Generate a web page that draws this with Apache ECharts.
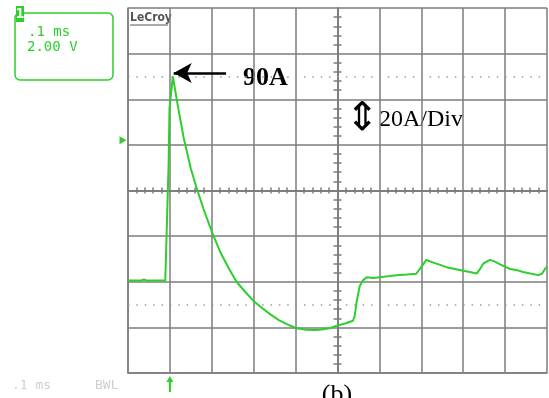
<!DOCTYPE html>
<html>
<head>
<meta charset="utf-8">
<script src="https://cdn.jsdelivr.net/npm/echarts@6/dist/echarts.min.js"></script>
<style>
  html, body { margin: 0; padding: 0; background: #fff; }
  #scope { width: 549px; height: 398px; }
</style>
</head>
<body>
<div id="scope"></div>
<script>
// time in microseconds (0 = trigger), current in A (20 A/div)
const timeUs = [-100, -70, -62, -55, -11, -8, -3, -1, 7, 20, 33, 50, 64, 80, 100, 119, 140, 159, 180, 199,
  220, 239, 260, 279, 302, 326, 345, 358, 382, 398, 420, 437, 441, 446, 453, 460, 470, 485, 501, 520,
  541, 565, 588, 600, 612, 620, 629, 645, 660, 680, 700, 716, 732, 740, 748, 764, 776, 788, 800, 812,
  830, 843, 860, 879, 888, 895, 900];
const currentA = [0.5, 0.5, 1.0, 0.5, 0.5, 20, 52, 76, 90, 76, 63, 49.5, 41, 32, 22, 13.5, 6, 0, -4.5, -8.3,
  -11.5, -14.2, -16.8, -18.6, -20.4, -21, -21.2, -21, -20.4, -19.3, -18.2, -17.1, -15, -8.5, -2, 0.5, 2, 1.6, 2, 2.4,
  2.9, 3.2, 3.5, 6.5, 9.6, 9, 8.4, 7.4, 6.4, 5.6, 4.8, 4.3, 3.6, 5.5, 8, 9.6, 8.8, 7.6, 6.6, 5.6,
  5, 4.3, 3.6, 2.9, 3.5, 5.6, 6.6];

// dotted marker levels (A) and trigger level
const dottedLevels = [90, -10];
const triggerLevel = 62;
const peakArrow = [[134, 91.5], [9, 91.5]];

const chartDom = document.getElementById('scope');
const myChart = echarts.init(chartDom, null, {renderer: 'canvas'});
let option;

const gridColor = '#7c7c7c';
const traceColor = '#2dcf2d';

// axis used only to draw the little ticks on the centre cross
function centreX(pos) {
  return {
    type: 'value', min: -100, max: 900, interval: 100, position: pos,
    axisLine: {show: true, onZero: true, onZeroAxisIndex: 1, lineStyle: {color: gridColor, width: 1.5}},
    axisTick: {show: false},
    minorTick: {show: true, splitNumber: 5, length: 3, lineStyle: {color: gridColor, width: 1.5}},
    axisLabel: {show: false},
    splitLine: {show: false}
  };
}
function centreY(pos) {
  return {
    type: 'value', min: -40, max: 120, interval: 20, position: pos,
    axisLine: {show: true, onZero: true, onZeroAxisIndex: 3, lineStyle: {color: gridColor, width: 1.5}},
    axisTick: {show: false},
    minorTick: {show: true, splitNumber: 5, length: 4, lineStyle: {color: gridColor, width: 1.5}},
    axisLabel: {show: false},
    splitLine: {show: false}
  };
}

option = {
  backgroundColor: '#fff',
  animation: false,
  grid: {
    left: 128,
    right: 2,
    top: 8,
    bottom: 25,
    outerBoundsMode: 'none'
  },
  xAxis: [
    {
      type: 'value', min: -100, max: 900, interval: 100,
      axisLine: {show: true, onZero: false, lineStyle: {color: gridColor, width: 1.5}},
      axisTick: {show: false},
      axisLabel: {show: false},
      splitLine: {show: true, lineStyle: {color: gridColor, width: 1.5}}
    },
    centreX('bottom'),
    centreX('top'),
    {type: 'value', min: -5, max: 5, show: false}
  ],
  yAxis: [
    {
      type: 'value', min: -40, max: 120, interval: 20,
      axisLine: {show: true, onZero: false, lineStyle: {color: gridColor, width: 1.5}},
      axisTick: {show: false},
      axisLabel: {show: false},
      splitLine: {show: true, lineStyle: {color: gridColor, width: 1.5}}
    },
    {type: 'value', min: -4, max: 4, show: false},
    centreY('left'),
    centreY('right')
  ],
  series: [
    {
      name: 'current',
      type: 'line',
      data: timeUs.map((t, i) => [t, currentA[i]]),
      symbol: 'none',
      lineStyle: {color: traceColor, width: 2},
      markLine: {
        silent: true,
        symbol: 'none',
        label: {show: false},
        lineStyle: {color: '#9a9a9a', width: 1.5, type: [1.5, 6.88]},
        data: dottedLevels.map(v => ({yAxis: v}))
      }
    },
    {
      name: 'annotations',
      type: 'line',
      data: [],
      markLine: {
        silent: true,
        label: {show: false},
        symbol: ['none', 'arrow'],
        symbolSize: [15, 18],
        lineStyle: {color: '#000', width: 2.5, type: 'solid'},
        data: [[{coord: peakArrow[0]}, {coord: peakArrow[1]}]]
      },
      markPoint: {
        silent: true,
        label: {show: false},
        data: [
          {
            coord: [-100, triggerLevel],
            symbol: 'triangle', symbolRotate: -90, symbolSize: [8, 7],
            symbolOffset: [-5, 0],
            itemStyle: {color: traceColor}
          },
          {
            coord: [0, -40],
            symbol: 'path://M5,0 L10,6 L6.5,6 L6.5,16 L3.5,16 L3.5,6 L0,6 Z',
            symbolSize: [7, 16], symbolOffset: [0, 11],
            itemStyle: {color: traceColor}
          }
        ]
      }
    }
  ],
  graphic: [
    {type: 'rect', shape: {x: 15, y: 13, width: 98, height: 67, r: 5},
      style: {fill: 'none', stroke: traceColor, lineWidth: 1.5}},
    {type: 'rect', shape: {x: 16, y: 6, width: 8, height: 16},
      style: {fill: traceColor}},
    {type: 'text', x: 20, y: 14, style: {text: '1', fill: '#fff', font: 'bold 14px "DejaVu Sans Mono"',
      align: 'center', verticalAlign: 'middle'}},
    {type: 'text', x: 28, y: 32, style: {text: '.1 ms', fill: traceColor, font: '14px "DejaVu Sans Mono"',
      verticalAlign: 'middle'}},
    {type: 'text', x: 27, y: 47, style: {text: '2.00 V', fill: traceColor, font: '14px "DejaVu Sans Mono"',
      verticalAlign: 'middle'}},
    {type: 'text', x: 130, y: 18, style: {text: 'LeCroy', fill: '#555', font: 'bold 12px "DejaVu Sans Condensed"',
      verticalAlign: 'middle'}},
    {type: 'line', shape: {x1: 130, y1: 25, x2: 168, y2: 25}, style: {stroke: '#555', lineWidth: 1}},
    {type: 'text', x: 243, y: 78, style: {text: '90A', fill: '#000', font: 'bold 26px "Liberation Serif"',
      verticalAlign: 'middle'}},
    {type: 'text', x: 362, y: 120, style: {text: '⇕', fill: '#000', font: '40px "DejaVu Sans"',
      align: 'center', verticalAlign: 'middle'}},
    {type: 'text', x: 379, y: 120, style: {text: '20A/Div', fill: '#000', font: '24px "Liberation Serif"',
      verticalAlign: 'middle'}},
    {type: 'text', x: 12, y: 386, style: {text: '.1 ms', fill: '#cfcfcf', font: '13px "DejaVu Sans Mono"',
      verticalAlign: 'middle'}},
    {type: 'text', x: 95, y: 386, style: {text: 'BWL', fill: '#cfcfcf', font: '13px "DejaVu Sans Mono"',
      verticalAlign: 'middle'}},
    {type: 'text', x: 337, y: 382, style: {text: '(b)', fill: '#000', font: '26px "Liberation Serif"',
      align: 'center', verticalAlign: 'top'}}
  ]
};

option && myChart.setOption(option);
</script>
</body>
</html>
